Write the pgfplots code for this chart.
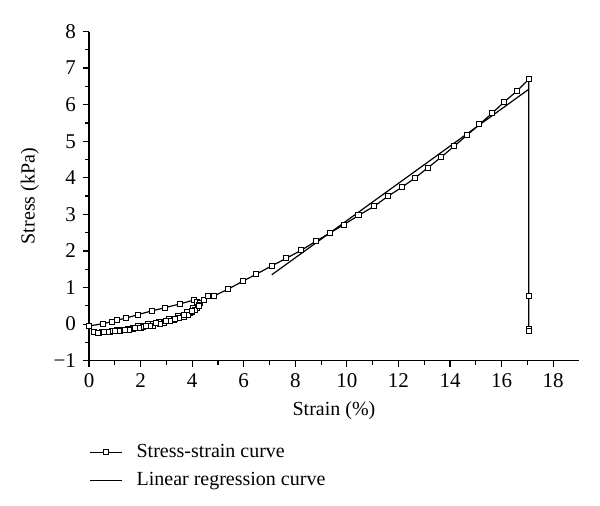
\documentclass[border=0pt]{standalone}
\usepackage{fontspec}
\setmainfont{Liberation Serif}
\usepackage{pgfplots}
\pgfplotsset{compat=1.18}

\begin{document}
\begin{tikzpicture}
\useasboundingbox (-44.5pt,-72.65pt) rectangle (255.5pt,180.35pt);
\begin{axis}[scale only axis,width=245pt,height=164.6pt,
  at={(0,0)},anchor=south west,
  xmin=0,xmax=19,ymin=-1,ymax=8,
  axis x line*=bottom,axis y line*=left,
  axis line style={line width=0.6pt,-},
  tick align=outside,
  major tick length=3pt,minor tick length=2pt,
  every tick/.style={black,line width=0.6pt},
  xtick={0,2,...,18},ytick={-1,0,...,8},
  yticklabels={−1,0,1,2,3,4,5,6,7,8},
  minor x tick num=1,minor y tick num=1,
  /pgf/number format/assume math mode=true,
  ticklabel style={font=\fontsize{10.5}{12}\selectfont},
  xlabel={Strain (\%)},ylabel={Stress (kPa)},
  label style={font=\fontsize{10}{12}\selectfont},
  xlabel style={yshift=0pt},
  ylabel style={yshift=0.5pt},
  legend style={at={(0,-0.24)},anchor=north west,draw=none,
    inner sep=0pt,font=\fontsize{10}{12}\selectfont,
    row sep=2pt,cells={anchor=west},
    /tikz/every odd column/.append style={column sep=5pt}},
  legend cell align=left,
  legend image code/.code={\draw[#1] (0pt,0pt) -- (16pt,0pt); \draw[#1,only marks] plot coordinates {(8pt,0pt)};},
]
\addplot[black,line width=0.6pt,mark=square*,mark size=1.25pt,
  mark options={fill=white,line width=0.5pt}] coordinates {
(0,-0.05) (0.53,0.01) (0.89,0.07) (1.07,0.11) (1.42,0.16) (1.90,0.26)
(2.43,0.36) (2.95,0.45) (3.52,0.55) (4.07,0.66) (4.2,0.6)
(4.1,0.45) (3.9,0.32) (3.6,0.2) (3.2,0.1) (2.8,0.02) (2.4,-0.05)
(2.0,-0.1) (1.6,-0.14) (1.2,-0.18) (0.8,-0.21) (0.4,-0.23) (0.2,-0.22)
(0.5,-0.22) (0.9,-0.2) (1.3,-0.16) (1.7,-0.11) (2.1,-0.06) (2.5,0.0)
(2.9,0.06) (3.3,0.13) (3.6,0.2) (3.9,0.3) (4.15,0.45) (4.3,0.58)
(4.2,0.45) (4.0,0.32) (3.7,0.2) (3.3,0.1) (2.9,0.02) (2.5,-0.04)
(2.1,-0.09) (1.7,-0.13) (1.3,-0.17) (0.9,-0.2) (0.5,-0.22)
(0.7,-0.21) (1.1,-0.17) (1.5,-0.12) (1.9,-0.06) (2.3,0.0) (2.7,0.07)
(3.1,0.14) (3.45,0.22) (3.8,0.33) (4.05,0.45) (4.25,0.52)
(4.1,0.38) (3.85,0.26) (3.5,0.16) (3.15,0.08) (2.75,0.0) (2.35,-0.06)
(1.95,-0.11) (1.55,-0.15) (1.15,-0.19) (0.75,-0.22) (0.35,-0.23)
(0.6,-0.21) (1.0,-0.19) (1.4,-0.15) (1.8,-0.1) (2.2,-0.04) (2.6,0.02)
(3.0,0.09) (3.35,0.15) (3.7,0.24) (4.0,0.36) (4.25,0.5) (4.45,0.66)
(4.63,0.77) (4.85,0.77) (5.40,0.96) (5.96,1.17) (6.47,1.36) (7.08,1.59)
(7.65,1.80) (8.23,2.02) (8.81,2.27) (9.36,2.50) (9.88,2.72) (10.45,2.97)
(11.05,3.22) (11.6,3.5) (12.15,3.75) (12.65,4.0) (13.15,4.28) (13.65,4.56)
(14.15,4.86) (14.65,5.16) (15.14,5.46) (15.62,5.76) (16.11,6.08) (16.59,6.37)
(17.05,6.69) (17.05,0.78) (17.05,-0.12) (17.05,-0.18)
};
\addlegendentry{Stress-strain curve}
\addplot[black,line width=0.6pt] coordinates {(7.09,1.35) (17.05,6.42)};
\addlegendentry{Linear regression curve}
\end{axis}
\end{tikzpicture}
\end{document}
